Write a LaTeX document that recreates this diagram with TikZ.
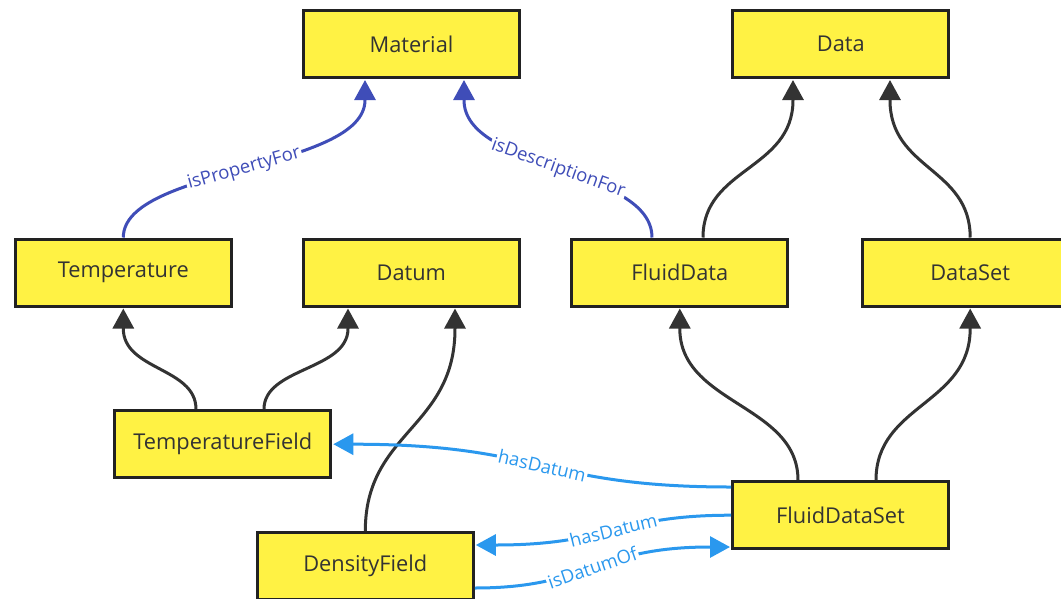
\documentclass[tikz,border=0pt]{standalone}
\usepackage{fontspec}
\setmainfont{Open Sans}
\usetikzlibrary{arrows.meta,calc}

\definecolor{boxfill}{HTML}{FFF244}
\definecolor{boxline}{HTML}{222222}
\definecolor{boxtext}{HTML}{333333}
\definecolor{edgedark}{HTML}{333333}
\definecolor{propblue}{HTML}{3F4DB8}
\definecolor{datumblue}{HTML}{2A98EE}

\begin{document}
\begin{tikzpicture}[x=1pt,y=-1pt,
  cls/.style={draw=boxline, fill=boxfill, line width=3pt,
    minimum width=216pt, minimum height=67pt, inner sep=0pt,
    text=boxtext, font=\fontsize{21.8}{25}\selectfont},
  tip/.style={-{Triangle[width=21pt,length=20pt]}},
  isa/.style={tip, draw=edgedark, line width=3pt},
  prop/.style={tip, draw=propblue, line width=3pt},
  datum/.style={tip, draw=datumblue, line width=3pt},
  lbl/.style={sloped, fill=white, inner sep=1.5pt, pos=0.5,
    font=\fontsize{18.5}{21}\selectfont},
]
\clip (0,0) rectangle (1061,598);
\fill[white] (0,0) rectangle (1061,598);

% classes
\node[cls] (mat)   at (411.5,44)   {Material};
\node[cls] (data)  at (840.8,44)   {Data};
\node[cls] (temp)  at (123.3,272.5) {Temperature};
\node[cls] (datum) at (411.3,272.5) {Datum};
\node[cls] (fdata) at (679.8,272.5) {FluidData};
\node[cls] (dset)  at (970.2,272.5) {DataSet};
\node[cls] (tfld)  at (222.8,444.2) {TemperatureField};
\node[cls] (fdset) at (840.5,515.2) {FluidDataSet};
\node[cls] (dfld)  at (365.3,566.2) {DensityField};

% property links to Material
\draw[prop] (temp.north) .. controls +(0,-70) and +(0,70) ..
    node[lbl, text=propblue] {isPropertyFor}
  ($(mat.south)+(-46.5,21)$) -- ($(mat.south)+(-46.5,1)$);
\draw[prop] ($(fdata.north)+(-27.8,0)$) .. controls +(0,-70) and +(0,70) ..
    node[lbl, text=propblue] {isDescriptionFor}
  ($(mat.south)+(52.5,21)$) -- ($(mat.south)+(52.5,1)$);

% subclass links
\draw[isa] ($(fdata.north)+(23.2,0)$) .. controls +(0,-70) and +(0,70) ..
  ($(data.south)+(-47.8,21)$) -- ($(data.south)+(-47.8,1)$);
\draw[isa] (dset.north) .. controls +(0,-70) and +(0,70) ..
  ($(data.south)+(49.2,21)$) -- ($(data.south)+(49.2,1)$);
\draw[isa] ($(tfld.north)+(-26.8,0)$) .. controls +(0,-42) and +(0,42) ..
  ($(temp.south)+(0,21)$) -- ($(temp.south)+(0,1)$);
\draw[isa] ($(tfld.north)+(41.2,0)$) .. controls +(0,-42) and +(0,42) ..
  ($(datum.south)+(-63.3,21)$) -- ($(datum.south)+(-63.3,1)$);
\draw[isa] (dfld.north) .. controls +(0,-100) and +(0,100) ..
  ($(datum.south)+(43.7,21)$) -- ($(datum.south)+(43.7,1)$);
\draw[isa] ($(fdset.north)+(-42.5,0)$) .. controls +(0,-76) and +(0,76) ..
  ($(fdata.south)+(0,21)$) -- ($(fdata.south)+(0,1)$);
\draw[isa] ($(fdset.north)+(35.5,0)$) .. controls +(0,-76) and +(0,76) ..
  ($(dset.south)+(0,21)$) -- ($(dset.south)+(0,1)$);

% datum links
\draw[datum] ($(fdset.west)+(0,-28.2)$) .. controls +(-190,0) and +(190,0) ..
    node[lbl, text=datumblue] {hasDatum}
  ($(tfld.east)+(21,0)$) -- ($(tfld.east)+(1,0)$);
\draw[datum] (fdset.west) .. controls +(-115,0) and +(115,0) ..
    node[lbl, text=datumblue] {hasDatum}
  ($(dfld.east)+(21,-21.2)$) -- ($(dfld.east)+(1,-21.2)$);
\draw[datum] ($(dfld.east)+(0,21.8)$) .. controls +(115,0) and +(-115,0) ..
    node[lbl, text=datumblue] {isDatumOf}
  ($(fdset.west)+(-21,31.8)$) -- ($(fdset.west)+(-1,31.8)$);
\end{tikzpicture}
\end{document}
